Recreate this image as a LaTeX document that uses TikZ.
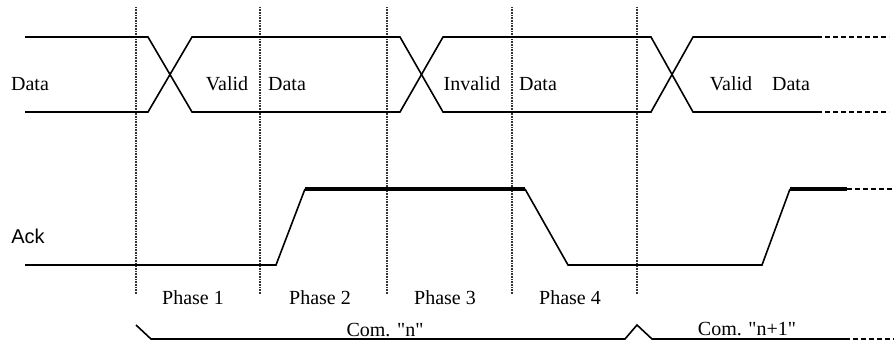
\documentclass[tikz,border=0pt]{standalone}
\usepackage{fontspec}
\setmainfont{Liberation Serif}[Ligatures=TeXOff]
\newfontfamily\ackfont{Liberation Sans}
\begin{document}
\begin{tikzpicture}[x=1pt, y=-1pt, font=\fontsize{20}{24}\selectfont,
    signal/.style={line width=1.6pt},
    highsig/.style={line width=3.5pt},
    tail/.style={line width=2.6pt, dash pattern=on 5pt off 3pt},
    divider/.style={line width=1.6pt, black!80, dash pattern=on 1pt off 0.6pt},
    lbl/.style={anchor=base, inner sep=0pt}]

    \useasboundingbox (0,0) rectangle (894,345);

    % --- Phase boundaries ---
    \foreach \x in {136, 260, 387, 512, 637}
        \draw[divider] (\x,7) -- (\x,294);

    % --- Data bus ---
    \draw[signal] (25,37) -- (148,37) -- (192,112) -- (400,112) -- (443,37) -- (651,37) -- (693,112) -- (817,112);
    \draw[signal] (25,112) -- (148,112) -- (192,37) -- (400,37) -- (443,112) -- (651,112) -- (693,37) -- (817,37);
    \draw[tail] (817,37) -- (889,37);
    \draw[tail] (817,112) -- (889,112);

    \node[lbl] (datalbl) at (30,91) {Data};
    \node[lbl] (valid1) at (227,91) {Valid};
    \node[lbl] (data1) at (287,91) {Data};
    \node[lbl] (invalid) at (472,91) {Invalid};
    \node[lbl] (data2) at (538,91) {Data};
    \node[lbl] (valid2) at (731,91) {Valid};
    \node[lbl] (data3) at (791,91) {Data};

    % --- Acknowledge ---
    \draw[signal] (25,265) -- (276,265) -- (305,189);
    \draw[highsig] (305,189) -- (525,189);
    \draw[signal] (525,189) -- (568,265) -- (762,265) -- (790,189);
    \draw[highsig] (790,189) -- (847,189);
    \draw[tail] (847,189) -- (894,189);

    \node[lbl, font=\ackfont\fontsize{20}{24}\selectfont] (acklbl) at (28,243) {Ack};

    % --- Phases ---
    \node[lbl] (ph1) at (193,304) {Phase 1};
    \node[lbl] (ph2) at (320,304) {Phase 2};
    \node[lbl] (ph3) at (445,304) {Phase 3};
    \node[lbl] (ph4) at (570,304) {Phase 4};

    % --- Commands ---
    \draw[signal] (136,325) -- (151,339) -- (625,339) -- (637,325) -- (652,339) -- (845,339);
    \draw[tail] (845,339) -- (894,339);

    \node[lbl] (comn) at (385,336) {Com. "n"};
    \node[lbl] (comn1) at (747,335) {Com. "n+1"};

\end{tikzpicture}
\end{document}
